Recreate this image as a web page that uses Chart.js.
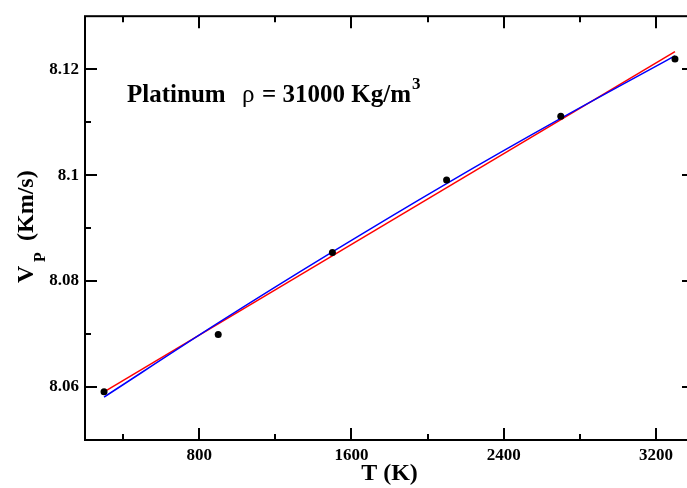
<!DOCTYPE html>
<html>
<head>
<meta charset="utf-8">
<script src="https://cdn.jsdelivr.net/npm/chart.js@4/dist/chart.umd.min.js"></script>
<style>
  html, body { margin: 0; padding: 0; background: #fff; overflow: hidden; }
  canvas { display: block; }
</style>
</head>
<body>
<canvas id="c" width="700" height="488"></canvas>
<script>
// Measured P-wave velocity of platinum versus temperature
const temperatures = [300, 900, 1500, 2100, 2700, 3300];
const velocities = [8.0591, 8.0699, 8.0854, 8.0991, 8.1111, 8.1219];

// Linear fit (red)
const linearFitT = [300, 3300];
const linearFitV = [8.0591, 8.1233];

// Quadratic fit (blue)
const quadFitT = [300, 900, 1500, 2100, 2700, 3300];
const quadFitV = [8.0581, 8.0721, 8.0855, 8.0984, 8.1107, 8.1225];

// Axis ticks
const xMajorTicks = [800, 1600, 2400, 3200];
const xMajorLabels = ['800', '1600', '2400', '3200'];
const xMinorTicks = [400, 1200, 2000, 2800];
const yMajorTicks = [8.06, 8.08, 8.10, 8.12];
const yMajorLabels = ['8.06', '8.08', '8.1', '8.12'];
const yMinorTicks = [8.07, 8.09, 8.11];

const SERIF = "'Liberation Serif', 'Times New Roman', serif";

const toXY = (xs, ys) => xs.map((x, i) => ({ x: x, y: ys[i] }));

// Closed frame with inward major/minor ticks on all four sides
const frameTicks = {
  id: 'frameTicks',
  afterDatasetsDraw(chart) {
    const { ctx, chartArea: a, scales: { x, y } } = chart;
    ctx.save();
    ctx.strokeStyle = '#000';
    ctx.lineWidth = 2;
    ctx.beginPath();
    const xt = (vals, len) => vals.forEach(v => {
      const p = Math.round(x.getPixelForValue(v));
      ctx.moveTo(p, a.bottom); ctx.lineTo(p, a.bottom - len);
      ctx.moveTo(p, a.top); ctx.lineTo(p, a.top + len);
    });
    const yt = (vals, len) => vals.forEach(v => {
      const p = Math.round(y.getPixelForValue(v));
      ctx.moveTo(a.left, p); ctx.lineTo(a.left + len, p);
      ctx.moveTo(a.right, p); ctx.lineTo(a.right - len, p);
    });
    xt(xMajorTicks, 12); xt(xMinorTicks, 6);
    yt(yMajorTicks, 12); yt(yMinorTicks, 6);
    ctx.stroke();
    ctx.strokeRect(a.left, a.top, a.right - a.left, a.bottom - a.top);
    ctx.restore();
  }
};

// Annotation text and the y-axis title with its subscript
const labels = {
  id: 'labels',
  afterDraw(chart) {
    const ctx = chart.ctx;
    ctx.save();
    ctx.fillStyle = '#000';
    ctx.textAlign = 'left';
    ctx.textBaseline = 'alphabetic';

    let x = 127;
    const base = 102;
    ctx.font = 'bold 25px ' + SERIF;
    ctx.fillText('Platinum', x, base);
    x = 242;
    ctx.font = '25px ' + SERIF;
    ctx.fillText('\u03C1', x, base);
    x = 262;
    ctx.font = 'bold 25px ' + SERIF;
    ctx.fillText('= 31000 Kg/m', x, base);
    x += ctx.measureText('= 31000 Kg/m').width + 1;
    ctx.font = 'bold 17px ' + SERIF;
    ctx.fillText('3', x, 89);

    const rot = (text, font, bx, by) => {
      ctx.save();
      ctx.translate(bx, by);
      ctx.rotate(-Math.PI / 2);
      ctx.font = font;
      ctx.fillText(text, 0, 0);
      const w = ctx.measureText(text).width;
      ctx.restore();
      return w;
    };
    rot('V', 'bold 24px ' + SERIF, 33, 283);
    rot('P', 'bold 16px ' + SERIF, 45, 262);
    rot('(Km/s)', 'bold 24px ' + SERIF, 33, 241);
    ctx.restore();
  }
};

new Chart(document.getElementById('c'), {
  type: 'scatter',
  data: {
    datasets: [
      {
        label: 'data',
        data: toXY(temperatures, velocities),
        pointRadius: 3.5,
        pointHoverRadius: 3.5,
        pointBackgroundColor: '#000',
        pointBorderColor: '#000',
        pointBorderWidth: 0,
        showLine: false,
        order: 0
      },
      {
        label: 'quadratic',
        data: toXY(quadFitT, quadFitV),
        showLine: true,
        borderColor: '#0000ff',
        borderWidth: 1.5,
        pointRadius: 0,
        cubicInterpolationMode: 'monotone',
        order: 1
      },
      {
        label: 'linear',
        data: toXY(linearFitT, linearFitV),
        showLine: true,
        borderColor: '#ff0000',
        borderWidth: 1.5,
        pointRadius: 0,
        order: 2
      }
    ]
  },
  options: {
    responsive: false,
    animation: false,
    devicePixelRatio: 1,
    layout: { padding: { left: 0, top: 13, right: 6, bottom: 0 } },
    plugins: { legend: { display: false }, tooltip: { enabled: false } },
    scales: {
      x: {
        type: 'linear',
        min: 200,
        max: 3400,
        grid: { display: false, drawTicks: false },
        border: { display: false },
        afterBuildTicks: s => { s.ticks = xMajorTicks.map(v => ({ value: v })); },
        afterFit: s => { s.height = 48; },
        ticks: {
          padding: 5,
          maxRotation: 0,
          color: '#000',
          font: { family: SERIF, weight: 'bold', size: 17 },
          callback: (v, i) => xMajorLabels[i]
        },
        title: {
          display: true,
          text: 'T (K)',
          color: '#000',
          padding: { top: 0, bottom: 0 },
          font: { family: SERIF, weight: 'bold', size: 24 }
        }
      },
      y: {
        type: 'linear',
        min: 8.05,
        max: 8.13,
        grid: { display: false, drawTicks: false },
        border: { display: false },
        afterBuildTicks: s => { s.ticks = yMajorTicks.map(v => ({ value: v })); },
        afterFit: s => { s.width = 85; },
        ticks: {
          padding: 6,
          color: '#000',
          font: { family: SERIF, weight: 'bold', size: 17 },
          callback: (v, i) => yMajorLabels[i]
        }
      }
    }
  },
  plugins: [frameTicks, labels]
});
</script>
</body>
</html>
